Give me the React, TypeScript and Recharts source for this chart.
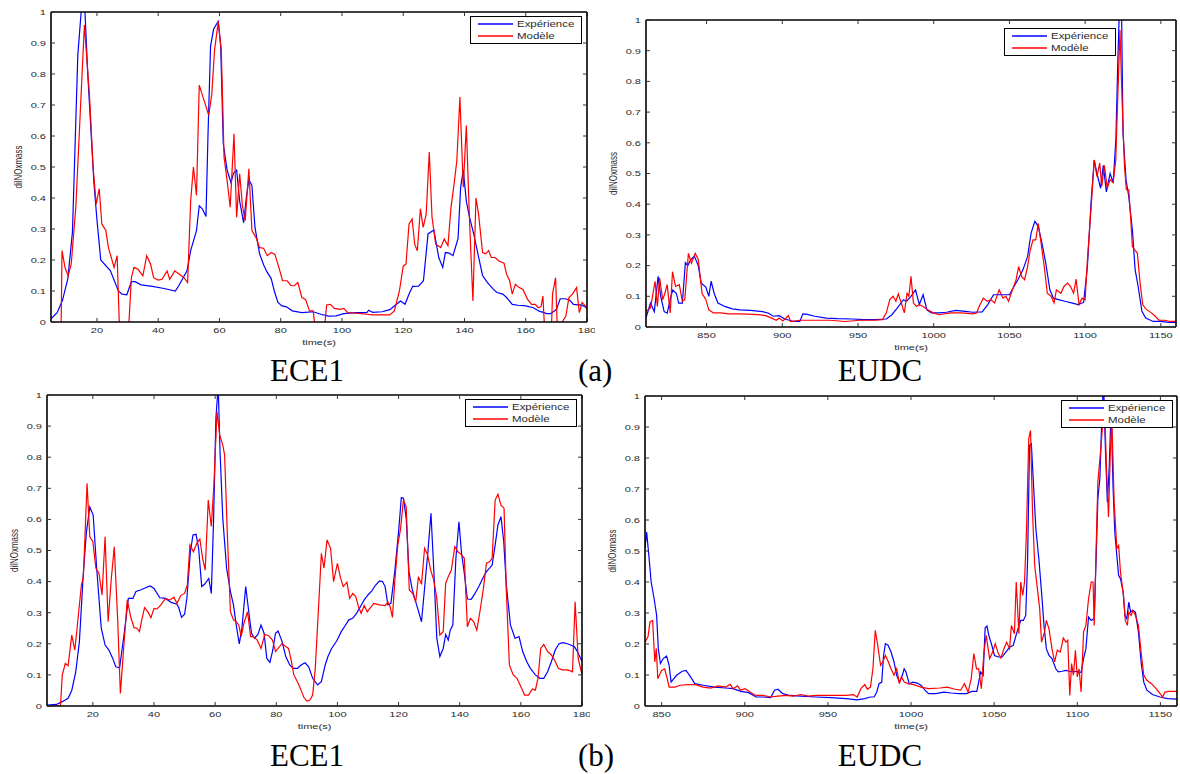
import { LineChart, Line, XAxis, YAxis } from 'recharts';

type Pt = [number, number];

// time (s), dilNOxmass
const ece1aExp: Pt[] = [
  [5, 0.01], [7, 0.03], [8.75, 0.07], [10.5, 0.14], [12, 0.29], [13.75, 0.86], [15, 1.02], [16, 1.02], [17, 0.8],
  [19, 0.45], [20, 0.33], [21.25, 0.2], [24.4, 0.165], [27, 0.1], [28.25, 0.09], [29.75, 0.088], [31.25, 0.13],
  [32.5, 0.13], [34.4, 0.12], [38.1, 0.115], [41.9, 0.108], [45.6, 0.1], [46.9, 0.12], [49.4, 0.165], [50.6, 0.23],
  [52.5, 0.295], [53.4, 0.375], [54.4, 0.365], [55.6, 0.34], [56.25, 0.6], [57.1, 0.89], [58.1, 0.945], [59.6, 0.97],
  [60.4, 0.89], [61.25, 0.575], [62.5, 0.49], [63.75, 0.45], [64.6, 0.48], [65.6, 0.49], [66.6, 0.39], [67.9, 0.32],
  [68.75, 0.4], [69.6, 0.46], [70.6, 0.44], [71.6, 0.305], [73.1, 0.22], [74.4, 0.185], [75.6, 0.16], [76.9, 0.14],
  [77.9, 0.1], [79.1, 0.063], [80.4, 0.052], [81.9, 0.049], [83.75, 0.036], [86.9, 0.03], [90.6, 0.033], [93.1, 0.025],
  [95.6, 0.019], [98.1, 0.02], [100.6, 0.027], [104.4, 0.03], [108.1, 0.03], [108.75, 0.038], [110, 0.031],
  [113.1, 0.033], [115.6, 0.04], [117.5, 0.055], [119.1, 0.068], [120.6, 0.057], [121.9, 0.09], [123.1, 0.115],
  [125, 0.116], [126.6, 0.133], [128.1, 0.284], [130, 0.297], [131.6, 0.208], [132.9, 0.176], [133.75, 0.224],
  [135, 0.222], [136.25, 0.214], [137.9, 0.27], [138.75, 0.435], [139.6, 0.49], [140.6, 0.39], [141.6, 0.34],
  [143.1, 0.28], [144.6, 0.21], [145.9, 0.15], [147.5, 0.127], [149.4, 0.106], [150.6, 0.095], [152.5, 0.09],
  [153.75, 0.079], [155.6, 0.057], [157.5, 0.054], [160, 0.052], [162.5, 0.046], [164.4, 0.035], [166.9, 0.027],
  [168.1, 0.027], [170, 0.04], [171.25, 0.075], [172.9, 0.075], [174.4, 0.07], [175.6, 0.057], [176.9, 0.055],
  [178.1, 0.055], [180, 0.046],
];

const ece1aMod: Pt[] = [
  [5, -0.2], [8.2, -0.1], [8.6, 0.23], [9.6, 0.175], [10.6, 0.149], [11.6, 0.187], [13.1, 0.37], [15.9, 0.958],
  [17.6, 0.726], [18.75, 0.5], [19.75, 0.38], [20.75, 0.43], [21.6, 0.316], [22.9, 0.295], [23.75, 0.24], [25.6, 0.176],
  [26.6, 0.214], [27.6, -0.1], [29.9, -0.1], [31.25, 0.143], [32.1, 0.176], [33.4, 0.17], [35, 0.149], [36.25, 0.214],
  [37.5, 0.187], [38.5, 0.143], [40, 0.135], [41.25, 0.138], [42.9, 0.165], [43.75, 0.138], [45.4, 0.165],
  [46.9, 0.154], [48.4, 0.143], [49.6, 0.127], [50.6, 0.39], [51.5, 0.5], [52.5, 0.408], [53.4, 0.764], [54.6, 0.726],
  [56.5, 0.667], [57.5, 0.735], [58.4, 0.877], [59.6, 0.969], [60.6, 0.877], [61.5, 0.532], [62.5, 0.456], [63.5, 0.37],
  [64.75, 0.607], [65.6, 0.338], [66.6, 0.478], [67.5, 0.375], [68.4, 0.327], [69.6, 0.494], [70.6, 0.295],
  [71.9, 0.273], [73.1, 0.24], [74.4, 0.238], [75.6, 0.214], [76.9, 0.224], [78.1, 0.218], [79.4, 0.176], [80.6, 0.133],
  [82.1, 0.133], [83.4, 0.117], [84.4, 0.117], [85.6, 0.127], [86.9, 0.079], [88.1, 0.073], [89.4, 0.036], [90.6, 0.036],
  [91.6, -0.05], [94, -0.05], [95, 0.055], [96.25, 0.057], [97.5, 0.044], [99.4, 0.041], [100.6, 0.044], [101.9, 0.03],
  [103.75, 0.029], [106.25, 0.027], [108.1, 0.025], [110, 0.023], [113.1, 0.023], [115.6, 0.023], [117.1, 0.036],
  [118.75, 0.1], [120, 0.18], [120.9, 0.187], [121.9, 0.316], [122.9, 0.332], [123.75, 0.251], [124.6, 0.23],
  [125.6, 0.365], [126.5, 0.305], [127.5, 0.348], [128.5, 0.548], [129.4, 0.338], [130.6, 0.251], [132.25, 0.24],
  [133.4, 0.268], [134.6, 0.246], [135.6, 0.37], [136.6, 0.445], [137.5, 0.52], [138.5, 0.726], [139.6, 0.435],
  [140.6, 0.634], [141.6, 0.338], [142.75, 0.068], [143.75, 0.4], [144.6, 0.348], [145.9, 0.224], [146.9, 0.22],
  [147.9, 0.23], [148.75, 0.208], [150, 0.208], [151.25, 0.197], [152.9, 0.19], [153.75, 0.154], [154.75, 0.133],
  [155.6, 0.09], [156.6, 0.122], [157.9, 0.111], [159.1, 0.105], [160.6, 0.073], [161.9, 0.057], [163.1, 0.057],
  [164.1, 0.046], [165, 0.05], [165.6, 0.084], [166.3, -0.05], [168.3, -0.05], [168.75, 0.09], [169.75, 0.143],
  [170.4, -0.05], [171.9, 0], [173.1, 0.019], [174.1, 0.079], [175.25, 0.09], [176.6, 0.111], [177.5, 0.03],
  [178.4, 0.063], [179.4, 0.052], [180, 0.041],
];

const eudcaExp: Pt[] = [
  [810, 0.03], [813, 0.078], [815.5, 0.05], [818, 0.165], [819.7, 0.1], [822, 0.05], [824, 0.045], [826, 0.09],
  [827.6, 0.12], [830, 0.11], [831.6, 0.078], [834, 0.078], [836, 0.21], [837.6, 0.2], [839.6, 0.22], [842, 0.23],
  [844.5, 0.2], [846.5, 0.143], [849.5, 0.13], [851.5, 0.1], [853, 0.149], [855, 0.11], [857.5, 0.078], [862, 0.067],
  [867, 0.059], [872, 0.056], [879, 0.054], [887, 0.05], [891, 0.045], [894, 0.035], [898, 0.037], [901.6, 0.026],
  [904.6, 0.022], [907.9, 0.018], [911.6, 0.018], [913.6, 0.043], [916.5, 0.041], [921.5, 0.035], [929, 0.029],
  [936.4, 0.027], [946.3, 0.026], [953.8, 0.024], [961, 0.024], [968.7, 0.026], [972.4, 0.04], [976, 0.062],
  [980, 0.089], [982, 0.084], [985, 0.1], [988, 0.121], [990.5, 0.073], [993, 0.105], [995.5, 0.056], [998.5, 0.046],
  [1003.5, 0.046], [1008.4, 0.048], [1014.6, 0.054], [1020.8, 0.051], [1025.8, 0.048], [1032, 0.049], [1035.7, 0.073],
  [1039.5, 0.105], [1043, 0.105], [1047, 0.105], [1050, 0.105], [1053, 0.132], [1055.6, 0.154], [1059, 0.187],
  [1062, 0.23], [1064.3, 0.306], [1066.8, 0.344], [1069, 0.328], [1071.7, 0.268], [1074, 0.208], [1076.7, 0.121],
  [1079, 0.094], [1082.4, 0.089], [1086.6, 0.084], [1091.6, 0.078], [1095.3, 0.073], [1099, 0.08], [1101.5, 0.197],
  [1104, 0.414], [1106, 0.544], [1107.8, 0.5], [1110.2, 0.452], [1112, 0.527], [1114, 0.44], [1116.5, 0.5],
  [1118.5, 0.47], [1120.3, 0.61], [1121.5, 0.85], [1122.7, 1.05], [1124, 1.05], [1125, 0.63], [1127, 0.48],
  [1128.8, 0.425], [1131.2, 0.317], [1133, 0.187], [1135, 0.132], [1137.5, 0.051], [1140, 0.029], [1145, 0.018],
  [1150, 0.018], [1155, 0.015], [1160, 0.015],
];

const eudcaMod: Pt[] = [
  [810, 0.051], [813, 0.062], [816, 0.149], [817.5, 0.067], [819, 0.16], [821, 0.089], [822.5, 0.11], [824, 0.138],
  [826, 0.046], [827.5, 0.18], [829.5, 0.132], [832, 0.138], [834, 0.084], [835.6, 0.089], [838, 0.24], [840, 0.208],
  [842.5, 0.24], [844.5, 0.22], [847, 0.11], [849.5, 0.089], [851.5, 0.056], [854.5, 0.046], [859.4, 0.046],
  [864.4, 0.043], [870.6, 0.043], [876.8, 0.042], [884.3, 0.04], [889, 0.037], [893, 0.029], [896, 0.022],
  [898, 0.029], [900.4, 0.02], [904, 0.037], [905.5, 0.018], [911.6, 0.022], [921.5, 0.022], [931.5, 0.022],
  [941.4, 0.018], [951.3, 0.022], [961, 0.022], [966.2, 0.024], [968.7, 0.046], [971, 0.089], [973.2, 0.1],
  [975, 0.084], [976.6, 0.108], [978.6, 0.078], [980.6, 0.046], [982.4, 0.11], [983.6, 0.1], [985, 0.165],
  [986.6, 0.078], [988.6, 0.067], [990.5, 0.073], [993, 0.067], [996, 0.056], [999.7, 0.046], [1003.5, 0.04],
  [1011, 0.046], [1018.4, 0.046], [1025.8, 0.043], [1028.3, 0.046], [1030.3, 0.07], [1032.8, 0.094], [1035.3, 0.084],
  [1037.7, 0.089], [1040.2, 0.078], [1043.2, 0.121], [1045.7, 0.094], [1047.7, 0.1], [1049.4, 0.084], [1052, 0.121],
  [1054.4, 0.154], [1056.1, 0.197], [1058, 0.165], [1060, 0.154], [1062, 0.197], [1063.7, 0.25], [1065.6, 0.284],
  [1067.4, 0.284], [1069, 0.338], [1070.6, 0.284], [1073, 0.197], [1075, 0.11], [1077.5, 0.1], [1079.5, 0.078],
  [1081, 0.121], [1084, 0.11], [1086, 0.132], [1088.4, 0.143], [1090.4, 0.132], [1092.4, 0.11], [1094, 0.156],
  [1096, 0.073], [1098, 0.094], [1100, 0.089], [1101.5, 0.219], [1104, 0.393], [1106, 0.544], [1107.8, 0.49],
  [1109.6, 0.534], [1111, 0.458], [1112.7, 0.527], [1114.6, 0.452], [1116.5, 0.48], [1118.5, 0.47], [1120.2, 0.544],
  [1121.5, 0.74], [1123, 0.967], [1124.4, 0.74], [1126, 0.523], [1127.2, 0.447], [1128.8, 0.447], [1130, 0.36],
  [1131.2, 0.262], [1133, 0.25], [1134.5, 0.24], [1136.3, 0.143], [1138, 0.073], [1140, 0.059], [1143.8, 0.046],
  [1146.3, 0.035], [1148.8, 0.022], [1152.6, 0.022], [1156.3, 0.018], [1160, 0.018],
];

const ece1bExp: Pt[] = [
  [5, 0.003], [8.1, 0.005], [10, 0.014], [11.9, 0.025], [13.1, 0.05], [14.4, 0.11], [15.6, 0.207], [16.9, 0.43],
  [17.9, 0.56], [19, 0.64], [20.1, 0.614], [21.25, 0.443], [22.75, 0.25], [24, 0.196], [25.25, 0.18], [26.5, 0.153],
  [27.5, 0.126], [28.75, 0.123], [29.75, 0.196], [30.6, 0.26], [31.6, 0.346], [33.1, 0.346], [34.1, 0.368],
  [35.6, 0.373], [37.25, 0.38], [38.75, 0.386], [40, 0.378], [41.9, 0.348], [43.75, 0.346], [45.6, 0.333],
  [47.5, 0.327], [48.1, 0.316], [49, 0.285], [50, 0.295], [50.75, 0.346], [51.9, 0.496], [52.75, 0.55], [53.75, 0.552],
  [54.6, 0.507], [55.6, 0.384], [56.6, 0.392], [57.9, 0.41], [58.75, 0.362], [59.5, 0.603], [60.25, 0.925],
  [61, 1.03], [61.6, 0.818], [62.5, 0.603], [63.75, 0.443], [65, 0.368], [66, 0.325], [66.9, 0.26], [67.9, 0.2],
  [68.75, 0.25], [70, 0.384], [71, 0.303], [71.9, 0.234], [72.9, 0.218], [74, 0.23], [75, 0.26], [76, 0.234],
  [76.9, 0.153], [77.9, 0.14], [78.75, 0.175], [79.75, 0.234], [80.6, 0.241], [81.9, 0.207], [83.1, 0.159],
  [84.4, 0.132], [85.6, 0.121], [86.9, 0.121], [88.1, 0.132], [89.4, 0.139], [90.6, 0.126], [91.9, 0.089],
  [93.5, 0.068], [94.75, 0.078], [96, 0.132], [96.9, 0.159], [98.1, 0.185], [99.75, 0.209], [101.25, 0.239],
  [102.5, 0.258], [103.75, 0.277], [105, 0.282], [106.25, 0.298], [107.5, 0.319], [108.75, 0.341], [110, 0.357],
  [111.25, 0.37], [112.5, 0.389], [113.75, 0.402], [114.75, 0.4], [115.6, 0.384], [116.5, 0.325], [117.5, 0.33],
  [118.75, 0.432], [120, 0.56], [120.9, 0.67], [121.6, 0.668], [122.5, 0.603], [123.4, 0.432], [124.4, 0.378],
  [125.25, 0.346], [126.25, 0.314], [127.5, 0.271], [128.5, 0.378], [129.6, 0.496], [130.6, 0.62], [131.6, 0.421],
  [132.5, 0.218], [133.5, 0.159], [134.6, 0.185], [135.4, 0.23], [136.25, 0.212], [136.9, 0.244], [137.75, 0.26],
  [138.75, 0.475], [139.75, 0.592], [140.6, 0.491], [141.5, 0.427], [142.5, 0.344], [143.75, 0.343], [145, 0.362],
  [146.25, 0.384], [147.5, 0.41], [148.75, 0.432], [149.75, 0.443], [150.6, 0.453], [151.6, 0.518], [152.5, 0.582],
  [153.5, 0.609], [154.4, 0.528], [155.25, 0.389], [156.6, 0.26], [158.1, 0.218], [159.4, 0.223], [160.6, 0.175],
  [161.9, 0.143], [163.1, 0.121], [164.75, 0.1], [166.25, 0.089], [167.5, 0.089], [168.75, 0.11], [170, 0.143],
  [171.25, 0.18], [172.5, 0.2], [173.75, 0.204], [175, 0.201], [176.25, 0.196], [177.5, 0.191], [178.5, 0.175],
  [180, 0.143],
];

const ece1bMod: Pt[] = [
  [5, 0], [9.4, 0], [10, 0.1], [11, 0.137], [11.9, 0.129], [13.1, 0.228], [14.1, 0.18], [15, 0.266], [16.25, 0.389],
  [16.9, 0.416], [18.1, 0.716], [19, 0.544], [20, 0.528], [21, 0.443], [22, 0.427], [23, 0.357], [24, 0.544],
  [25, 0.271], [26, 0.405], [27, 0.512], [28.1, 0.282], [29, 0.04], [30, 0.175], [31.25, 0.341], [32.5, 0.282],
  [33.5, 0.252], [34.4, 0.25], [35.25, 0.239], [36, 0.277], [36.9, 0.316], [38.1, 0.301], [39, 0.284], [40, 0.314],
  [41, 0.312], [42.25, 0.325], [43.75, 0.346], [45.25, 0.341], [46.5, 0.35], [47.5, 0.33], [48.75, 0.355], [50, 0.362],
  [50.9, 0.389], [51.75, 0.518], [52.9, 0.496], [54, 0.523], [55, 0.537], [55.9, 0.475], [56.75, 0.437], [57.75, 0.662],
  [58.75, 0.577], [59.6, 0.711], [60.6, 0.946], [61.5, 0.871], [62.5, 0.839], [63.1, 0.807], [64, 0.55], [65, 0.303],
  [66, 0.277], [66.9, 0.271], [67.75, 0.26], [68.5, 0.223], [69.4, 0.266], [70.6, 0.303], [71.6, 0.223], [72.5, 0.223],
  [73.75, 0.212], [75, 0.185], [76.25, 0.23], [77.5, 0.226], [78.75, 0.212], [79.75, 0.175], [80.6, 0.185],
  [81.9, 0.201], [83.1, 0.191], [84, 0.185], [84.75, 0.153], [85.75, 0.1], [86.9, 0.078], [88.1, 0.051], [89, 0.028],
  [90, 0.016], [91, 0.019], [91.9, 0.035], [92.75, 0.121], [93.75, 0.303], [94.75, 0.491], [95.6, 0.443],
  [96.6, 0.534], [97.75, 0.507], [98.75, 0.4], [100, 0.459], [100.9, 0.416], [101.9, 0.384], [103.1, 0.398],
  [104, 0.346], [105, 0.362], [106, 0.352], [106.9, 0.319], [107.75, 0.298], [108.75, 0.323], [109.75, 0.303],
  [110.6, 0.314], [111.9, 0.33], [113.75, 0.325], [115.6, 0.323], [116.5, 0.335], [117.25, 0.319], [118, 0.285],
  [118.75, 0.4], [119.75, 0.518], [120.6, 0.566], [121.6, 0.662], [122.5, 0.641], [123.5, 0.373], [124.6, 0.362],
  [125.6, 0.335], [126.5, 0.416], [127.5, 0.391], [128.5, 0.507], [129.5, 0.486], [130.5, 0.437], [131.5, 0.405],
  [132.5, 0.346], [133.5, 0.228], [134.6, 0.239], [135.4, 0.394], [136.25, 0.416], [137.25, 0.437], [138.4, 0.512],
  [139.4, 0.496], [140.6, 0.486], [141.5, 0.475], [142.5, 0.255], [143.5, 0.282], [144.6, 0.271], [145.6, 0.244],
  [146.6, 0.303], [147.75, 0.378], [148.75, 0.459], [149.75, 0.464], [150.6, 0.475], [151.6, 0.662], [152.5, 0.681],
  [153.5, 0.646], [154.5, 0.636], [155.25, 0.368], [156.25, 0.132], [157.5, 0.1], [158.75, 0.089], [160, 0.062],
  [161.25, 0.035], [162.5, 0.035], [163.75, 0.055], [164.75, 0.051], [165.6, 0.089], [166.5, 0.185], [167.5, 0.198],
  [168.75, 0.175], [170, 0.164], [171.25, 0.143], [172.25, 0.121], [173.5, 0.116], [175, 0.116], [176.25, 0.113],
  [176.9, 0.11], [177.75, 0.335], [178.75, 0.153], [180, 0.1],
];

const eudcbExp: Pt[] = [
  [840, 0.508], [841, 0.561], [842.5, 0.475], [843.7, 0.4], [845.5, 0.346], [847, 0.292], [848, 0.185], [849.3, 0.137],
  [851, 0.153], [853, 0.161], [854.5, 0.131], [855.7, 0.077], [859, 0.099], [862.4, 0.112], [864.7, 0.115],
  [867, 0.097], [870, 0.072], [875, 0.067], [881.7, 0.061], [888.5, 0.058], [893, 0.056], [897.7, 0.047],
  [902.3, 0.043], [906.8, 0.029], [911, 0.029], [915.6, 0.027], [917.9, 0.051], [920, 0.054], [922.9, 0.04],
  [927, 0.034], [933.7, 0.032], [942.8, 0.029], [951.8, 0.027], [960.9, 0.024], [967.6, 0.02], [972.2, 0.024],
  [975.6, 0.029], [977.8, 0.029], [979.4, 0.045], [980.8, 0.072], [982.4, 0.077], [983.5, 0.163], [984.6, 0.201],
  [986.2, 0.196], [988, 0.174], [989.8, 0.142], [991.4, 0.099], [993, 0.077], [994.8, 0.099], [995.9, 0.12],
  [997, 0.11], [998.9, 0.072], [1001.1, 0.077], [1003.8, 0.074], [1006, 0.067], [1008.4, 0.051], [1010.6, 0.04],
  [1015, 0.04], [1019.7, 0.045], [1024.2, 0.042], [1028.7, 0.04], [1033.3, 0.04], [1036.6, 0.047], [1039.6, 0.047],
  [1041.9, 0.11], [1043.4, 0.099], [1044.6, 0.252], [1045.7, 0.258], [1046.8, 0.228], [1048.6, 0.196],
  [1050.2, 0.163], [1052.5, 0.158], [1054.8, 0.158], [1057, 0.174], [1059.3, 0.19], [1061.5, 0.196], [1063.8, 0.239],
  [1066, 0.276], [1067.6, 0.276], [1069, 0.292], [1070.1, 0.465], [1071.3, 0.841], [1072.4, 0.846], [1073.5, 0.733],
  [1075.1, 0.572], [1076.9, 0.475], [1078.5, 0.368], [1080, 0.26], [1081.4, 0.185], [1083, 0.163], [1084.8, 0.153],
  [1087.1, 0.12], [1088.6, 0.11], [1090.9, 0.112], [1093.2, 0.115], [1095.5, 0.112], [1097.7, 0.11], [1100, 0.112],
  [1102.3, 0.108], [1103.8, 0.153], [1105.2, 0.185], [1106.8, 0.287], [1108.4, 0.276], [1110.2, 0.282],
  [1111.3, 0.465], [1112.4, 0.669], [1113.6, 0.733], [1114.7, 0.916], [1115.8, 1.05], [1117, 0.819], [1118.1, 0.658],
  [1119.2, 0.766], [1120.4, 0.959], [1121.5, 0.712], [1122.6, 0.561], [1123.8, 0.486], [1124.9, 0.421], [1126, 0.411],
  [1127.6, 0.368], [1128.7, 0.292], [1129.8, 0.282], [1131, 0.335], [1132.1, 0.303], [1133.3, 0.309], [1135, 0.303],
  [1136.8, 0.239], [1138.4, 0.142], [1140, 0.077], [1141.9, 0.051], [1145.2, 0.037], [1149.8, 0.029],
  [1154.3, 0.024], [1160, 0.022],
];

const eudcbMod: Pt[] = [
  [840, 0.206], [841.8, 0.223], [843, 0.271], [844.6, 0.276], [845.9, 0.142], [846.8, 0.185], [847.7, 0.088],
  [850, 0.115], [851.8, 0.12], [853.4, 0.088], [854.5, 0.061], [857.9, 0.061], [861.3, 0.067], [865.8, 0.069],
  [870.4, 0.069], [874.9, 0.061], [879.4, 0.058], [884, 0.065], [888.5, 0.061], [891.2, 0.07], [893, 0.056],
  [895.7, 0.065], [897.5, 0.051], [900.2, 0.056], [903.2, 0.045], [906.6, 0.034], [911, 0.034], [915.6, 0.029],
  [920, 0.032], [924.7, 0.034], [929.2, 0.032], [933.7, 0.037], [938.2, 0.032], [942.8, 0.034], [951.8, 0.034],
  [960.9, 0.034], [965.4, 0.037], [967.6, 0.029], [969.9, 0.056], [972.2, 0.069], [973.8, 0.054], [975.6, 0.061],
  [977.1, 0.12], [978.5, 0.244], [980, 0.196], [981.7, 0.131], [983, 0.142], [984.6, 0.163], [986.4, 0.142],
  [988, 0.12], [989.8, 0.099], [991.4, 0.12], [993, 0.072], [994.3, 0.094], [995.9, 0.077], [998.2, 0.072],
  [1001.6, 0.069], [1006, 0.061], [1010.6, 0.056], [1017.4, 0.058], [1021.9, 0.061], [1026.5, 0.054], [1029.9, 0.051],
  [1032.1, 0.072], [1034.4, 0.045], [1036.2, 0.088], [1037.8, 0.169], [1039.4, 0.12], [1040.7, 0.12], [1042.3, 0.056],
  [1043.9, 0.174], [1045.2, 0.228], [1047.3, 0.153], [1049.1, 0.174], [1050.7, 0.201], [1052.5, 0.169],
  [1054.1, 0.155], [1055.9, 0.185], [1057.5, 0.206], [1059.3, 0.185], [1060.4, 0.26], [1062.2, 0.233], [1063.3, 0.4],
  [1064.9, 0.233], [1066, 0.4], [1067.2, 0.357], [1068.3, 0.4], [1069.5, 0.572], [1070.8, 0.862], [1071.9, 0.889],
  [1073.1, 0.626], [1074.4, 0.454], [1075.8, 0.389], [1077.4, 0.314], [1078.5, 0.206], [1080.3, 0.239],
  [1081.4, 0.276], [1083, 0.249], [1084.8, 0.185], [1086.4, 0.142], [1088, 0.18], [1089.8, 0.174], [1091.6, 0.219],
  [1093.2, 0.206], [1094.3, 0.212], [1095.5, 0.034], [1096.6, 0.137], [1097.7, 0.099], [1098.9, 0.18], [1100, 0.094],
  [1101.1, 0.12], [1102.3, 0.045], [1103.8, 0.239], [1105.2, 0.26], [1106.8, 0.346], [1108.4, 0.4], [1109.5, 0.4],
  [1110.2, 0.26], [1111.3, 0.497], [1112.4, 0.723], [1114, 0.819], [1115.4, 0.916], [1116.5, 0.948], [1117.6, 0.766],
  [1118.8, 0.61], [1119.9, 0.819], [1120.8, 0.927], [1122.2, 0.658], [1123.8, 0.508], [1124.9, 0.518], [1126, 0.432],
  [1127.8, 0.357], [1128.9, 0.276], [1130.1, 0.26], [1131, 0.303], [1132.4, 0.292], [1133.5, 0.309], [1135, 0.292],
  [1136.8, 0.26], [1138.4, 0.174], [1140, 0.099], [1141.9, 0.083], [1144.6, 0.072], [1147.5, 0.056], [1149.8, 0.04],
  [1151.4, 0.029], [1152.7, 0.045], [1155.4, 0.047], [1160, 0.047],
];

const ece1Ticks = [20, 40, 60, 80, 100, 120, 140, 160, 180];
const eudcTicks = [850, 900, 950, 1000, 1050, 1100, 1150];
const yTicks = [0, 0.1, 0.2, 0.3, 0.4, 0.5, 0.6, 0.7, 0.8, 0.9, 1];
const seriesNames = ['Expérience', 'Modèle'];
const seriesColors = ['#0000ff', '#ff0000'];

const SANS = 'Arial, "Liberation Sans", Helvetica, sans-serif';
const SERIF = '"Times New Roman", "Liberation Serif", serif';
const STRETCH = 1.38;

const rows = (pts: Pt[]) => pts.map(([t, v]) => ({ t, v }));

const XTick = (p: any) => (
  <text
    transform={`translate(${p.x},${p.y}) scale(${STRETCH},1)`}
    textAnchor="middle"
    dy="0.72em"
    fontSize={8}
    fontFamily={SANS}
    fill="#2a2a2a"
  >
    {p.payload.value}
  </text>
);

const YTick = (p: any) => (
  <text
    transform={`translate(${p.x},${p.y}) scale(${STRETCH},1)`}
    textAnchor="end"
    dy="0.36em"
    fontSize={8}
    fontFamily={SANS}
    fill="#2a2a2a"
  >
    {p.payload.value}
  </text>
);

const NoTick = () => <g />;

const xName = (p: any) => {
  const vb = p.viewBox || {};
  return (
    <text
      transform={`translate(${vb.x + vb.width / 2},${vb.y + 20}) scale(${STRETCH},1)`}
      textAnchor="middle"
      dy="0.36em"
      fontSize={8}
      fontFamily={SANS}
      fill="#2a2a2a"
    >
      time(s)
    </text>
  );
};

const yName = (p: any) => {
  const vb = p.viewBox || {};
  return (
    <text
      transform={`translate(${vb.x + 11},${vb.y + vb.height / 2}) rotate(-90) scale(1,${STRETCH})`}
      textAnchor="middle"
      dy="0.36em"
      fontSize={8}
      fontFamily={SANS}
      fill="#2a2a2a"
    >
      dilNOxmass
    </text>
  );
};

type Plot = { x0: number; y0: number; x1: number; y1: number };

const LegendBox = ({ left, top }: { left: number; top: number }) => (
  <div
    style={{
      position: 'absolute',
      left,
      top,
      width: 112,
      height: 28,
      boxSizing: 'border-box',
      border: '1.5px solid #000',
      background: '#fff',
    }}
  >
    <svg width={46} height={26} style={{ position: 'absolute', left: 0, top: 0 }}>
      {seriesColors.map((c, i) => (
        <line key={c} x1={7} x2={42} y1={7 + i * 12} y2={7 + i * 12} stroke={c} strokeWidth={1.3} />
      ))}
    </svg>
    {seriesNames.map((name, i) => (
      <span
        key={name}
        style={{
          position: 'absolute',
          left: 46,
          top: 1.5 + i * 12,
          fontFamily: SANS,
          fontSize: 8.3,
          lineHeight: '10px',
          color: '#2a2a2a',
          whiteSpace: 'nowrap',
          transform: `scaleX(${STRETCH})`,
          transformOrigin: 'left center',
        }}
      >
        {name}
      </span>
    ))}
  </div>
);

const Panel = ({
  plot,
  domain,
  xTicks,
  exp,
  mod,
}: {
  plot: Plot;
  domain: [number, number];
  xTicks: number[];
  exp: Pt[];
  mod: Pt[];
}) => {
  const left = plot.x0 - 44;
  const top = plot.y0 - 10;
  const width = plot.x1 - plot.x0 + 52;
  const height = plot.y1 - plot.y0 + 50;
  const axisLine = { stroke: '#000', strokeWidth: 1.6 };
  const tickLine = { stroke: '#333', strokeWidth: 1 };
  return (
    <div style={{ position: 'absolute', left, top }}>
      <LineChart width={width} height={height} margin={{ top: 9, right: 7, bottom: 10, left: 0 }}>
        <XAxis
          xAxisId="b"
          type="number"
          dataKey="t"
          domain={domain}
          allowDataOverflow
          ticks={xTicks}
          interval={0}
          height={30}
          axisLine={axisLine}
          tickLine={tickLine}
          tickSize={-4}
          tickMargin={9}
          tick={(p: any) => <XTick {...p} />}
          label={xName}
        />
        <XAxis
          xAxisId="t"
          orientation="top"
          type="number"
          dataKey="t"
          domain={domain}
          allowDataOverflow
          ticks={xTicks}
          interval={0}
          height={1}
          axisLine={axisLine}
          tickLine={tickLine}
          tickSize={-4}
          tick={NoTick}
        />
        <YAxis
          yAxisId="l"
          type="number"
          domain={[0, 1]}
          allowDataOverflow
          ticks={yTicks}
          interval={0}
          width={44}
          axisLine={axisLine}
          tickLine={tickLine}
          tickSize={-4}
          tickMargin={9}
          tick={(p: any) => <YTick {...p} />}
          label={yName}
        />
        <YAxis
          yAxisId="r"
          orientation="right"
          type="number"
          domain={[0, 1]}
          allowDataOverflow
          ticks={yTicks}
          interval={0}
          width={1}
          axisLine={axisLine}
          tickLine={tickLine}
          tickSize={-4}
          tick={NoTick}
        />
        <Line
          xAxisId="b"
          yAxisId="l"
          data={rows(exp)}
          dataKey="v"
          name={seriesNames[0]}
          type="linear"
          stroke={seriesColors[0]}
          strokeWidth={1.2}
          dot={false}
          isAnimationActive={false}
        />
        <Line
          xAxisId="b"
          yAxisId="l"
          data={rows(mod)}
          dataKey="v"
          name={seriesNames[1]}
          type="linear"
          stroke={seriesColors[1]}
          strokeWidth={1.2}
          dot={false}
          isAnimationActive={false}
        />
      </LineChart>
    </div>
  );
};

const Caption = ({ text, cx, top }: { text: string; cx: number; top: number }) => (
  <div
    style={{
      position: 'absolute',
      left: cx - 100,
      top,
      width: 200,
      textAlign: 'center',
      fontFamily: SERIF,
      fontSize: 31,
      lineHeight: 1,
      color: '#000',
    }}
  >
    {text}
  </div>
);

const App = () => {
  return (
    <div style={{ position: 'absolute', left: 0, top: 0, width: 1180, height: 774, background: '#fff', overflow: 'hidden' }}>
      <Panel plot={{ x0: 51, y0: 12, x1: 587, y1: 322 }} domain={[5, 180]} xTicks={ece1Ticks} exp={ece1aExp} mod={ece1aMod} />
      <Panel plot={{ x0: 646, y0: 20, x1: 1176, y1: 327 }} domain={[810, 1160]} xTicks={eudcTicks} exp={eudcaExp} mod={eudcaMod} />
      <Panel plot={{ x0: 47, y0: 395, x1: 582, y1: 706 }} domain={[5, 180]} xTicks={ece1Ticks} exp={ece1bExp} mod={ece1bMod} />
      <Panel plot={{ x0: 645, y0: 396, x1: 1177, y1: 706 }} domain={[840, 1160]} xTicks={eudcTicks} exp={eudcbExp} mod={eudcbMod} />

      <LegendBox left={470} top={16} />
      <LegendBox left={1004} top={28} />
      <LegendBox left={465} top={399} />
      <LegendBox left={1061} top={400} />

      <Caption text="ECE1" cx={307} top={355} />
      <Caption text="EUDC" cx={880} top={355} />
      <Caption text="ECE1" cx={307} top={740} />
      <Caption text="EUDC" cx={880} top={740} />
      <div style={{ position: 'absolute', left: 578, top: 355, fontFamily: SERIF, fontSize: 31, lineHeight: 1 }}>(a)</div>
      <div style={{ position: 'absolute', left: 578, top: 740, fontFamily: SERIF, fontSize: 31, lineHeight: 1 }}>(b)</div>
    </div>
  );
};

export default App;
